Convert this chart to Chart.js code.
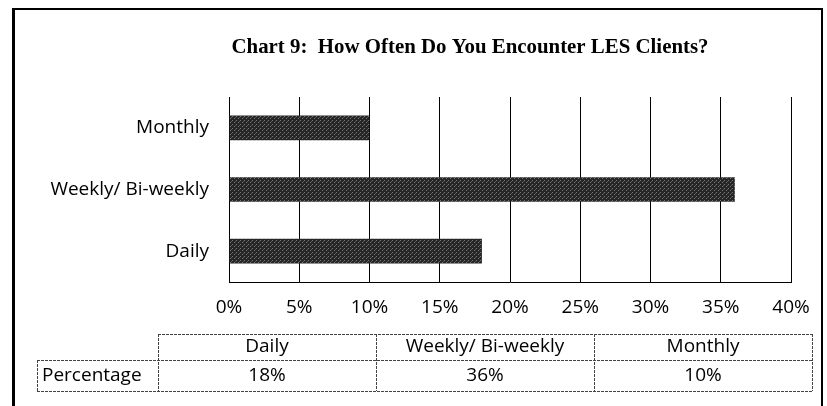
<!DOCTYPE html>
<html>
<head>
<meta charset="utf-8">
<script src="https://cdn.jsdelivr.net/npm/chart.js@4"></script>
<style>
  html, body { margin: 0; padding: 0; background: #fff; }
  #wrap { width: 827px; height: 406px; }
</style>
</head>
<body>
<div id="wrap"><canvas id="chart" width="827" height="406"></canvas></div>
<script>
// data
const categories = ['Daily', 'Weekly/ Bi-weekly', 'Monthly'];
const percentages = [18, 36, 10];
const rowLabel = 'Percentage';
const titleText = 'Chart 9:  How Often Do You Encounter LES Clients?';
const xMax = 40;
const xStep = 5;

const labelFont = { family: 'Open Sans', size: 19 };

// small stipple tile so the bars look like the scanned fill
function stipple() {
    const c = document.createElement('canvas');
    c.width = 4; c.height = 4;
    const g = c.getContext('2d');
    g.fillStyle = '#262626';
    g.fillRect(0, 0, 4, 4);
    g.fillStyle = '#777';
    g.fillRect(0, 0, 1, 1);
    g.fillRect(2, 2, 1, 1);
    g.fillStyle = '#555';
    g.fillRect(3, 1, 1, 1);
    return g.createPattern(c, 'repeat');
}

// frame, title and the data table under the axis
const tablePlugin = {
    id: 'dataTable',
    beforeDraw(chart) {
        const ctx = chart.ctx;
        ctx.save();
        ctx.fillStyle = '#fff';
        ctx.fillRect(0, 0, chart.width, chart.height);
        ctx.restore();
    },
    afterDraw(chart) {
        const ctx = chart.ctx;
        ctx.save();
        // frame
        ctx.strokeStyle = '#000';
        ctx.lineWidth = 2;
        ctx.beginPath();
        ctx.moveTo(13, 406);
        ctx.lineTo(13, 9);
        ctx.lineTo(822, 9);
        ctx.lineTo(822, 406);
        ctx.stroke();
        ctx.lineWidth = 3;
        ctx.beginPath();
        ctx.moveTo(13.5, 9);
        ctx.lineTo(13.5, 406);
        ctx.stroke();

        // title
        ctx.fillStyle = '#000';
        ctx.font = 'bold 22px "Liberation Serif"';
        ctx.textAlign = 'center';
        ctx.textBaseline = 'middle';
        ctx.fillText(titleText, 470, 47, 477);

        // table
        const labelLeft = 37, left = 158, right = 812;
        const top = 334, mid = 360, bottom = 391;
        const colW = (right - left) / categories.length;
        ctx.strokeStyle = '#444';
        ctx.lineWidth = 1;
        ctx.setLineDash([3, 1]);
        ctx.beginPath();
        ctx.moveTo(left, top + 0.5); ctx.lineTo(right, top + 0.5);
        ctx.moveTo(labelLeft, mid + 0.5); ctx.lineTo(right, mid + 0.5);
        ctx.moveTo(labelLeft, bottom + 0.5); ctx.lineTo(right, bottom + 0.5);
        ctx.moveTo(labelLeft + 0.5, mid); ctx.lineTo(labelLeft + 0.5, bottom);
        for (let i = 0; i <= categories.length; i++) {
            const x = Math.round(left + i * colW) + 0.5;
            ctx.moveTo(x, top); ctx.lineTo(x, bottom);
        }
        ctx.stroke();
        ctx.setLineDash([]);

        ctx.font = labelFont.size + 'px "' + labelFont.family + '"';
        ctx.textAlign = 'left';
        ctx.fillText(rowLabel, labelLeft + 5, (mid + bottom) / 2);
        ctx.textAlign = 'center';
        categories.forEach((cat, i) => {
            const cx = left + (i + 0.5) * colW;
            ctx.fillText(cat, cx, (top + mid) / 2);
            ctx.fillText(percentages[i] + '%', cx, (mid + bottom) / 2);
        });
        ctx.restore();
    }
};

const ctx = document.getElementById('chart').getContext('2d');
const chart = new Chart(ctx, {
    type: 'bar',
    data: {
        labels: categories,
        datasets: [{
            label: rowLabel,
            data: percentages,
            backgroundColor: stipple(),
            borderWidth: 0,
            barPercentage: 0.4,
            categoryPercentage: 1
        }]
    },
    options: {
        indexAxis: 'y',
        responsive: false,
        animation: false,
        layout: { padding: { left: 0, right: 36, top: 97, bottom: 0 } },
        plugins: {
            legend: { display: false },
            tooltip: { enabled: false },
            title: { display: false }
        },
        scales: {
            x: {
                min: 0,
                max: xMax,
                afterFit: (s) => { s.height = 124; },
                ticks: {
                    stepSize: xStep,
                    color: '#000',
                    font: labelFont,
                    padding: 14,
                    callback: (v) => v + '%'
                },
                grid: { color: '#000', lineWidth: 1, drawTicks: false },
                border: { display: true, color: '#000' }
            },
            y: {
                reverse: true,
                afterFit: (s) => { s.width = 229; },
                ticks: { color: '#000', font: labelFont, padding: 20 },
                grid: { display: false, drawTicks: false },
                border: { display: true, color: '#000' }
            }
        }
    },
    plugins: [tablePlugin]
});
</script>
</body>
</html>
